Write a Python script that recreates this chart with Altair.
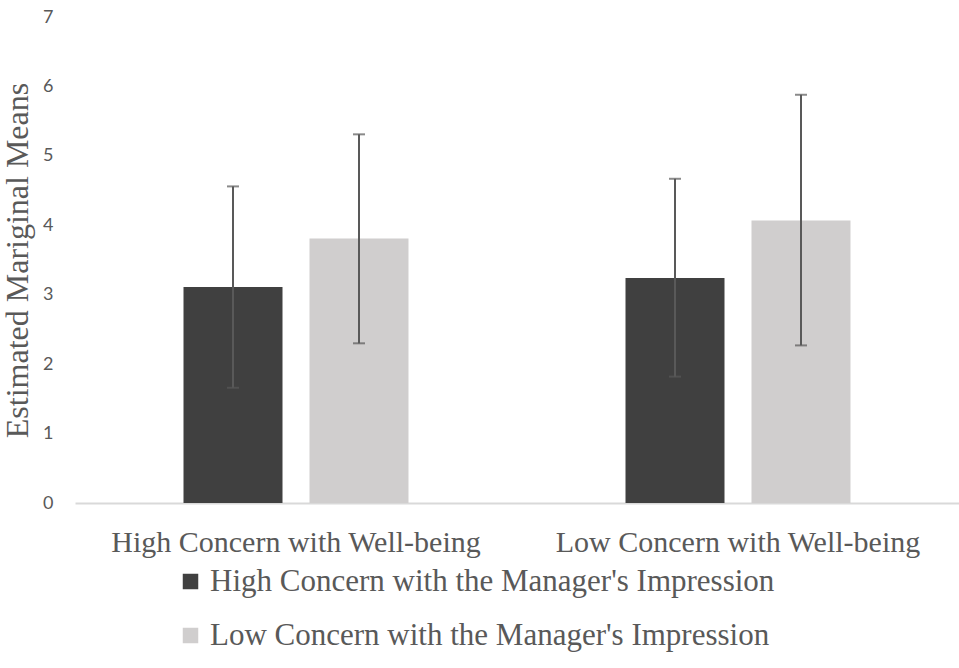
import altair as alt
import pandas as pd

categories = ["High Concern with Well-being", "Low Concern with Well-being"]
series = ["High Concern with the Manager's Impression", "Low Concern with the Manager's Impression"]
means = {
    series[0]: [3.11, 3.24],
    series[1]: [3.81, 4.07],
}
lower = {
    series[0]: [1.66, 1.82],
    series[1]: [2.30, 2.27],
}
upper = {
    series[0]: [4.56, 4.67],
    series[1]: [5.31, 5.88],
}
colors = ["#404040", "#d0cece"]

rows = []
for s in series:
    for i, c in enumerate(categories):
        rows.append({"cat": c, "series": s, "mean": means[s][i], "lo": lower[s][i], "hi": upper[s][i]})
df = pd.DataFrame(rows)

serif = "Liberation Serif"
sans = "Lato"
grey = "#595959"

x = alt.X("cat:N", sort=categories, title=None,
          scale=alt.Scale(paddingInner=0, paddingOuter=0),
          axis=alt.Axis(labelFont=serif, labelFontSize=30, labelColor=grey, labelAngle=0,
                        labelPadding=24, ticks=False, domainColor="#d9d9d9", domainWidth=2,
                        labelLimit=600))
xo = alt.XOffset("series:N", sort=series,
                 scale=alt.Scale(paddingInner=0.214, paddingOuter=0.861))
y = alt.Y("mean:Q", title="Estimated Mariginal Means",
          scale=alt.Scale(domain=[0, 7], nice=False),
          axis=alt.Axis(values=[0, 1, 2, 3, 4, 5, 6, 7], format="d", grid=False, domain=False,
                        ticks=False, labelFont=sans, labelFontSize=18, labelColor=grey,
                        labelPadding=22, titleFont=serif, titleFontSize=32, titleColor=grey,
                        titleFontWeight="normal", titlePadding=8))

bars = alt.Chart(df).mark_bar(size=99).encode(
    x=x, xOffset=xo, y=y,
    color=alt.Color("series:N", sort=series,
                    scale=alt.Scale(domain=series, range=colors),
                    legend=alt.Legend(title=None, orient="none", legendX=100, legendY=549,
                                      direction="vertical", symbolType="square", symbolSize=240,
                                      symbolStrokeWidth=0, labelFont=serif, labelFontSize=31,
                                      labelColor=grey, rowPadding=22, labelLimit=800,
                                      labelOffset=4)),
)

rules = alt.Chart(df).mark_rule(color=grey, strokeWidth=2).encode(
    x=alt.X("cat:N", sort=categories), xOffset=xo,
    y=alt.Y("lo:Q"), y2="hi:Q",
)
caps_hi = alt.Chart(df).mark_tick(color=grey, thickness=2, size=12).encode(
    x=alt.X("cat:N", sort=categories), xOffset=xo, y=alt.Y("hi:Q"),
)
caps_lo = alt.Chart(df).mark_tick(color=grey, thickness=2, size=12).encode(
    x=alt.X("cat:N", sort=categories), xOffset=xo, y=alt.Y("lo:Q"),
)

chart = alt.layer(bars, rules, caps_hi, caps_lo).properties(
    width=884, height=486,
    autosize=alt.AutoSizeParams(type="none"),
    padding={"left": 75, "top": 17, "right": 0, "bottom": 165},
    background="white",
).configure_view(stroke=None)

chart.save("out.html", embed_options={"renderer": "svg", "actions": False})
